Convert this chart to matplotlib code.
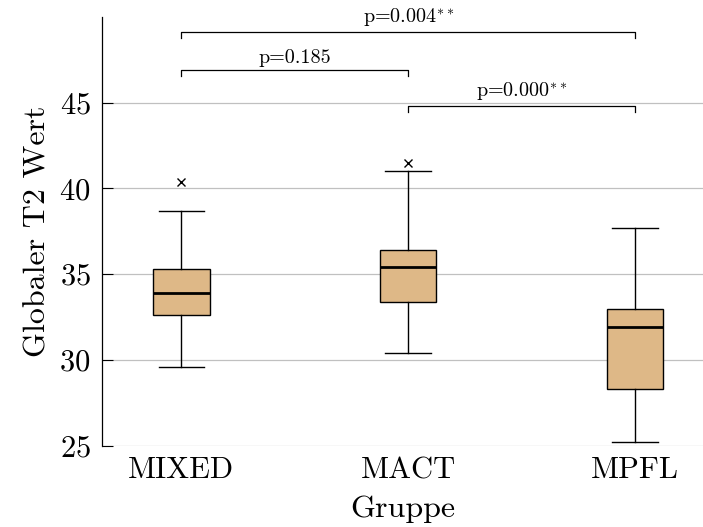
import matplotlib
matplotlib.use("Agg")
import matplotlib.pyplot as plt

plt.rcParams["font.family"] = ["cmr10", "DejaVu Serif"]
plt.rcParams["mathtext.fontset"] = "cm"
plt.rcParams["axes.formatter.use_mathtext"] = True

# Gruppen und Kennwerte der Boxplots
groups = ["MIXED", "MACT", "MPFL"]
whisker_low = [29.6, 30.4, 25.2]
q1 = [32.6, 33.4, 28.3]
median = [33.9, 35.4, 31.9]
q3 = [35.3, 36.4, 33.0]
whisker_high = [38.7, 41.0, 37.7]
outliers = [[40.4], [41.5], []]

# Vergleiche: (Gruppe a, Gruppe b, Höhe, Text)
pairs = [(0, 2, 49.1, r"p=0.004$^{**}$"),
         (0, 1, 46.9, "p=0.185"),
         (1, 2, 44.8, r"p=0.000$^{**}$")]

stats = []
for i, g in enumerate(groups):
    stats.append(dict(label=g, whislo=whisker_low[i], q1=q1[i], med=median[i],
                      q3=q3[i], whishi=whisker_high[i], fliers=outliers[i]))

fig = plt.figure(figsize=(7.03, 5.27), dpi=100)
ax = fig.add_axes([0.145, 0.154, 0.855, 0.814])

pos = list(range(len(groups)))
ax.bxp(stats, positions=pos, widths=0.25, patch_artist=True,
       boxprops=dict(facecolor="#DEB887", edgecolor="black", lw=1.0),
       medianprops=dict(color="black", lw=2.0),
       whiskerprops=dict(color="black", lw=1.0),
       capprops=dict(color="black", lw=1.0),
       capwidths=0.2,
       flierprops=dict(marker="x", markeredgecolor="black", markersize=6, mew=1.0))

for a, b, h, txt in pairs:
    ax.plot([pos[a], pos[a], pos[b], pos[b]], [h - 0.35, h, h, h - 0.35],
            color="black", lw=0.9, clip_on=False)
    ax.text((pos[a] + pos[b]) / 2, h + 0.2, txt, ha="center", va="bottom",
            fontsize=14.5)

ax.set_xlim(-0.35, 2.3)
ax.set_ylim(25, 50)
ax.set_yticks([25, 30, 35, 40, 45])
ax.set_xticks(pos)
ax.set_xticklabels(groups)
ax.yaxis.grid(True, color="#c0c0c0", lw=0.9)
ax.set_axisbelow(True)
ax.tick_params(axis="y", direction="in", length=8, labelsize=22, pad=8)
ax.tick_params(axis="x", length=0, labelsize=22, pad=8)
for s in ["top", "right", "bottom"]:
    ax.spines[s].set_visible(False)
ax.spines["left"].set_linewidth(0.9)

ax.set_xlabel("Gruppe", fontsize=23, labelpad=8)
ax.set_ylabel("Globaler T2 Wert", fontsize=23, labelpad=6)

fig.savefig("out.png", dpi=100)
